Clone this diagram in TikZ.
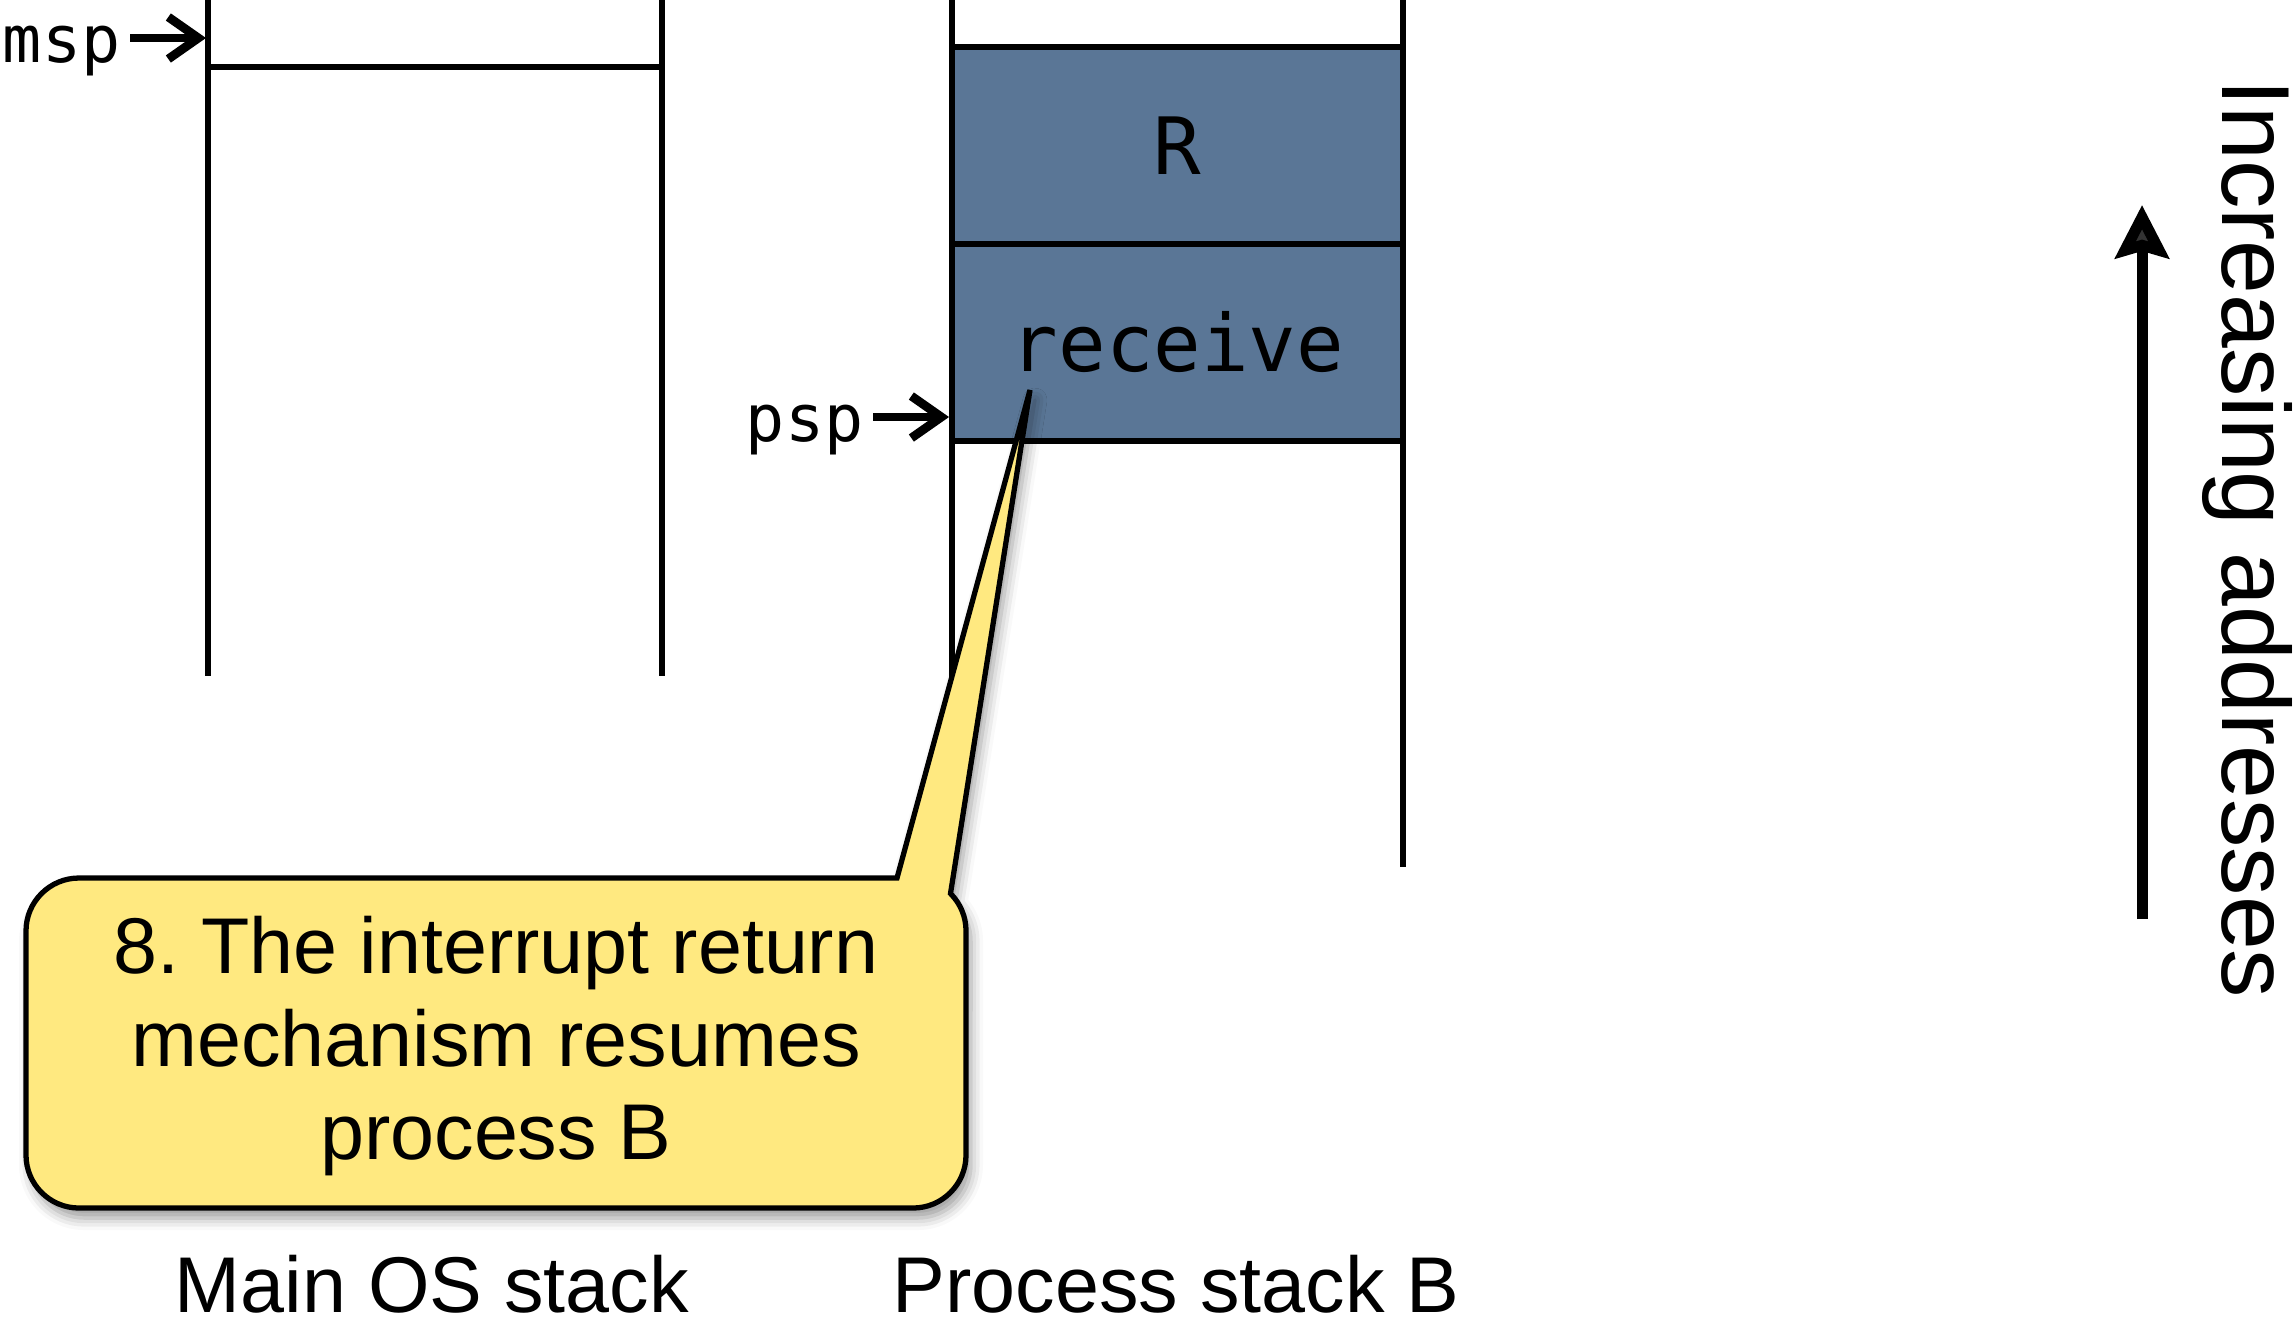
\documentclass[tikz,border=0pt]{standalone}
\usepackage{fontspec}
\setmainfont{Liberation Sans}
\setmonofont{DejaVu Sans Mono}
\usetikzlibrary{arrows.meta,shadows.blur}
\definecolor{stackblue}{RGB}{90,118,150}
\definecolor{noteyellow}{RGB}{255,233,128}

\begin{document}
\begin{tikzpicture}[line width=1.5pt,
    cell/.style={draw, line width=1.7pt, fill=stackblue, minimum width=4.51cm, minimum height=1.97cm,
      font=\ttfamily\fontsize{22.5}{27}\selectfont},
    reg/.style={anchor=base east, inner sep=0.07cm, font=\ttfamily\fontsize{18.5}{22}\selectfont},
    ptr/.style={line width=2.5pt, -{Straight Barb[length=0.3cm,width=0.42cm]}},
    stacklabel/.style={anchor=base, inner sep=0pt, font=\fontsize{22.5}{27}\selectfont}]
    \useasboundingbox (0,0) rectangle (22.96,-13.33);
    \foreach \x in {2.08,6.62}
      \draw (\x,0) -- (\x,-6.76);
    \draw (2.08,-0.67) -- (6.62,-0.67);
    \node[cell] (R) at (11.775,-1.455) {R};
    \node[cell] (recv) at (11.775,-3.425) {receive};
    \foreach \x in {9.52,14.03}
      \draw (\x,0) -- (\x,-8.67);
    \node[reg] (msp) at (1.30,-0.62) {msp};
    \coordinate (mspat) at (2.06,-0.38);
    \draw[ptr] (msp.east |- mspat) -- (mspat);
    \node[reg] (psp) at (8.73,-4.41) {psp};
    \coordinate (pspat) at (9.49,-4.17);
    \draw[ptr] (psp.east |- pspat) -- (pspat);
    \draw[fill=noteyellow, blur shadow={shadow xshift=0.05cm, shadow yshift=-0.1cm, shadow blur radius=0.12cm}]
      (8.97,-8.78) -- (10.30,-3.90) -- (9.505,-8.935) arc (45:0:0.53) -- (9.66,-11.55)
      arc (0:-90:0.53) -- (0.79,-12.08) arc (270:180:0.53) -- (0.26,-9.31) arc (180:90:0.53) -- cycle;
    \node[align=center, font=\fontsize{22.5}{26.5}\selectfont] (note) at (4.96,-10.46)
      {8.\ The interrupt return\\mechanism resumes\\process B};
    \node[stacklabel] (mainlbl) at (4.32,-13.12) {Main OS stack};
    \node[stacklabel] (proclbl) at (11.76,-13.12) {Process stack B};
    \coordinate (addrlo) at (21.42,-9.19);
    \coordinate (addrhi) at (21.42,-2.05);
    \draw[line width=0.11cm, -{Stealth[length=0.53cm,width=0.53cm,inset=0.07cm]}] (addrlo) -- (addrhi);
    \node[rotate=-90, anchor=base, font=\fontsize{27.5}{33}\selectfont] (incr) at (22.22,-5.39) {Increasing addresses};
\end{tikzpicture}
\end{document}
